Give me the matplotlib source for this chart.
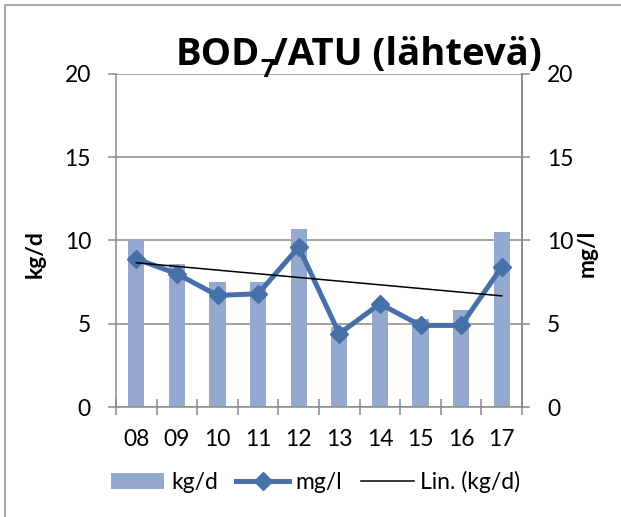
import matplotlib
matplotlib.use("Agg")
import matplotlib.pyplot as plt
import numpy as np
from matplotlib.lines import Line2D
from matplotlib.patches import Patch, Rectangle

# Yearly effluent BOD7/ATU values
years = ["08", "09", "10", "11", "12", "13", "14", "15", "16", "17"]
load_kgd = [10.0, 8.6, 7.5, 7.5, 10.7, 4.8, 6.0, 5.3, 5.8, 10.5]
conc_mgl = [8.9, 8.0, 6.7, 6.8, 9.6, 4.4, 6.2, 4.9, 4.9, 8.4]
y_ticks = [0, 5, 10, 15, 20]

plt.rcParams['font.family'] = ['Lato', 'DejaVu Sans']

BAR_C = '#94A8D0'
LINE_C = '#4571A8'
GRID_C = '#8A8A8A'
W, H = 621, 517

fig = plt.figure(figsize=(W / 100, H / 100), dpi=100)

# outer chart frame (left and top edges)
fig.add_artist(Line2D([5 / W, 5 / W], [0, 1 - 5 / H], color='#A6A6A6', lw=1.4))
fig.add_artist(Line2D([5 / W, 1], [1 - 5 / H, 1 - 5 / H], color='#A6A6A6', lw=1.4))

left, right, top, bottom = 116, 522, 74, 407
ax = fig.add_axes([left / W, 1 - bottom / H, (right - left) / W, (bottom - top) / H])
x = np.arange(len(years))

ax.bar(x, load_kgd, width=0.4, color=BAR_C, zorder=2)
ax.set_xlim(-0.5, len(years) - 0.5)
ax.set_ylim(0, 20)
ax.set_yticks(y_ticks)
ax.yaxis.grid(True, color=GRID_C, lw=1.1)
ax.set_axisbelow(True)

ax.spines['top'].set_visible(False)
for s in ['left', 'right', 'bottom']:
    ax.spines[s].set_color(GRID_C)
    ax.spines[s].set_linewidth(1.1)

ax.set_xticks(x)
ax.set_xticklabels(years)
ax.set_xticks(np.arange(-0.5, len(years)), minor=True)
ax.tick_params(axis='x', which='major', length=0, pad=16, labelsize=16.5)
ax.tick_params(axis='x', which='minor', direction='inout', length=11,
               width=1.1, color=GRID_C)
ax.tick_params(axis='y', direction='out', length=6, width=1.1, color=GRID_C,
               pad=12, labelsize=16.5)

ax2 = ax.twinx()
ax2.set_ylim(0, 20)
ax2.set_yticks(y_ticks)
for s in ['top', 'left', 'bottom']:
    ax2.spines[s].set_visible(False)
ax2.spines['right'].set_color(GRID_C)
ax2.spines['right'].set_linewidth(1.1)
ax2.tick_params(axis='y', direction='out', length=6, width=1.1, color=GRID_C,
                pad=12, labelsize=16.5)

ax2.plot(x, conc_mgl, color=LINE_C, lw=3.6, marker='D', ms=9,
         solid_joinstyle='miter', zorder=3)

# linear trend of the kg/d series (both axes span 0-20)
coef = np.polyfit(x, load_kgd, 1)
ax2.plot(x, np.polyval(coef, x), color='black', lw=1.1, zorder=4)

fig.text(35 / W, 1 - 254 / H, 'kg/d', rotation=90, ha='center', va='center',
         fontsize=16.5, fontweight='bold')
fig.text(587 / W, 1 - 253 / H, 'mg/l', rotation=90, ha='center', va='center',
         fontsize=16.5, fontweight='bold')

# title built from pieces so the subscript can sit low and large
renderer = fig.canvas.get_renderer()
title_font = ['Open Sans', 'DejaVu Sans']
title_fs, sub_fs = 27.5, 18
base_px, sub_px = 65, 77
parts = [("BOD", title_fs, base_px), ("7", sub_fs, sub_px),
         ("/ATU (lähtevä)", title_fs, base_px)]
widths = []
for s, fs, _ in parts:
    t = fig.text(0, 0, s, fontsize=fs, fontweight='bold', family=title_font)
    widths.append(t.get_window_extent(renderer).width)
    t.remove()
total = sum(widths) - 2
x0 = 359 - total / 2
fig.add_artist(Rectangle(((x0 - 4) / W, 1 - 73 / H), (total + 8) / W, 42 / H,
                         transform=fig.transFigure, facecolor='white',
                         edgecolor='none', zorder=9))
for (s, fs, ypx), w in zip(parts, widths):
    fig.text(x0 / W, 1 - ypx / H, s, fontsize=fs, fontweight='bold',
             family=title_font, ha='left', va='baseline', zorder=10)
    x0 += w - (2 if s == "7" else 0)

handles = [
    Patch(facecolor=BAR_C, edgecolor='none'),
    Line2D([], [], color=LINE_C, lw=3.6, marker='D', ms=9),
    Line2D([], [], color='black', lw=1.1),
]
fig.legend(handles, ['kg/d', 'mg/l', 'Lin. (kg/d)'], loc='center',
           bbox_to_anchor=(316 / W, 1 - 482 / H), ncol=3, frameon=False,
           fontsize=16.5, handlelength=2.3, handletextpad=0.3,
           columnspacing=0.8, borderaxespad=0, borderpad=0)

fig.savefig('out.png', dpi=100)
